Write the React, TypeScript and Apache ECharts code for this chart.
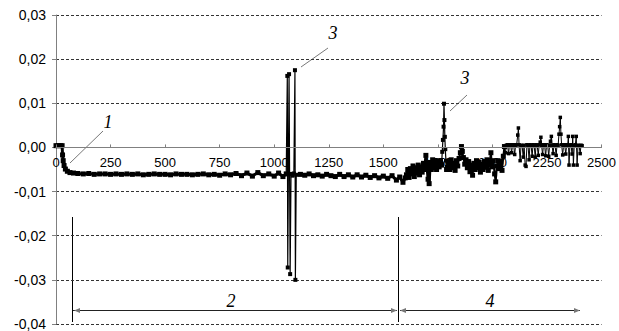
import React, { useEffect, useRef } from "react";
import * as echarts from "echarts";

// Startup transient (region 1)
const startup: [number, number][] = [
  [0, 0.0004], [10, 0.0004], [20, 0.0004], [28, 0.0004], [30, -0.0017], [33, -0.003],
  [37, -0.0041], [43, -0.0049], [52, -0.0054], [64, -0.0057], [80, -0.0058], [100, -0.0059],
];

// Steady regime (region 2, first part)
const steadyA: [number, number][] = [
  [125, -0.006], [150, -0.0059], [175, -0.0061], [200, -0.006], [225, -0.006], [250, -0.0061],
  [275, -0.006], [300, -0.0061], [325, -0.006], [350, -0.0061], [375, -0.006], [400, -0.0062],
  [425, -0.0061], [450, -0.006], [475, -0.0061], [500, -0.0061], [525, -0.0062], [550, -0.006],
  [575, -0.0061], [600, -0.0061], [625, -0.0062], [650, -0.0061], [675, -0.006], [700, -0.0062],
  [725, -0.0061], [750, -0.0063], [775, -0.006], [800, -0.0062], [825, -0.0059], [850, -0.0064],
  [875, -0.0058], [900, -0.0065], [925, -0.0057], [950, -0.0064], [975, -0.006], [1000, -0.0065],
  [1020, -0.0058], [1040, -0.0066], [1055, -0.006],
];

// Spikes (label 3, left)
const spikesA: [number, number][] = [
  [1060, 0.0162], [1062, -0.0272], [1068, 0.0166], [1073, -0.0287], [1077, -0.006],
  [1084, -0.0064], [1090, -0.0059], [1095, 0.0175], [1097, -0.03], [1101, -0.0062],
];

// Steady regime (region 2, second part)
const steadyB: [number, number][] = [
  [1120, -0.0061], [1140, -0.0063], [1160, -0.006], [1180, -0.0064], [1200, -0.0062], [1220, -0.0065],
  [1240, -0.0061], [1260, -0.0064], [1280, -0.0066], [1300, -0.0061], [1320, -0.0066], [1340, -0.0062],
  [1360, -0.0067], [1380, -0.0062], [1400, -0.0067], [1420, -0.0063], [1440, -0.0068], [1460, -0.0064],
  [1480, -0.0069], [1500, -0.0065], [1520, -0.007], [1540, -0.0064], [1560, -0.0074], [1575, -0.0067],
  [1590, -0.0079], [1600, -0.0069],
];

// Transition (region 4 start)
const transition: [number, number][] = [
  [1606, -0.0062], [1612, -0.005], [1618, -0.0068], [1624, -0.0048], [1630, -0.006], [1636, -0.0042],
  [1642, -0.0066], [1648, -0.0046], [1654, -0.0058], [1660, -0.004], [1666, -0.0062], [1672, -0.0044],
  [1678, -0.0056], [1684, -0.0036], [1690, -0.005], [1695, -0.0018], [1700, -0.0042], [1705, -0.0072],
  [1710, -0.0082], [1715, -0.0034], [1720, -0.005], [1726, -0.0028], [1732, -0.0046], [1738, -0.0032],
  [1744, -0.005], [1750, -0.003], [1756, -0.0044], [1762, -0.0032], [1767, -0.004],
];

// Spike (label 3, right)
const spikeB: [number, number][] = [
  [1770, -0.001], [1773, 0.0017], [1776, 0.0047], [1778, 0.0099], [1780, 0.0062], [1782, 0.0024],
  [1784, -0.0004], [1787, -0.003], [1790, -0.005],
];

// Region 4, scattered part
const scattered: [number, number][] = [
  [1793, -0.0045], [1799, -0.0032], [1805, -0.005], [1811, -0.0028], [1817, -0.0046], [1823, -0.0036],
  [1829, -0.0052], [1835, -0.003], [1841, -0.0042], [1847, -0.0025], [1853, -0.0012], [1858, 0.0002],
  [1862, -0.0009], [1867, -0.0023], [1873, -0.0038], [1879, -0.0028], [1885, -0.0046], [1891, -0.0032],
  [1897, -0.0055], [1903, -0.004], [1909, -0.0063], [1915, -0.0036], [1921, -0.005], [1927, -0.003],
  [1933, -0.0046], [1939, -0.0034], [1945, -0.0056], [1951, -0.0038], [1957, -0.005], [1963, -0.0032],
  [1969, -0.0045], [1975, -0.0028], [1981, -0.0052], [1987, -0.0036], [1993, -0.0012], [1998, -0.0044],
  [2004, -0.003], [2010, -0.006], [2015, -0.0078], [2020, -0.0042], [2026, -0.003], [2032, -0.0048],
  [2038, -0.0032], [2044, -0.0052], [2050, -0.002], [2055, 0.0002],
];

// Region 4, oscillating part
const oscillating: [number, number][] = [
  [2060, -0.0012], [2064, 0.0005], [2069, 0.0006], [2074, -0.0014], [2078, 0.0005], [2083, 0.0006],
  [2088, -0.0012], [2092, 0.0005], [2097, 0.0006], [2102, -0.0016], [2106, 0.0005], [2111, 0.0006],
  [2116, 0.0028], [2119, 0.0044], [2122, 0.0006], [2127, -0.003], [2131, 0.0005], [2136, 0.0004],
  [2141, -0.0022], [2145, 0.0005], [2150, -0.004], [2154, -0.0043], [2158, 0.0006], [2163, 0.0005],
  [2168, -0.0028], [2172, 0.0006], [2177, 0.0005], [2182, -0.002], [2186, 0.0006], [2191, 0.0005],
  [2196, -0.0022], [2200, 0.0006], [2205, 0.0005], [2210, -0.0018], [2214, 0.0006], [2219, 0.0012],
  [2222, 0.0023], [2225, 0.0005], [2230, -0.0016], [2234, 0.0006], [2239, 0.0005], [2244, -0.0019],
  [2248, 0.0006], [2253, 0.0005], [2258, -0.002], [2262, 0.0005], [2266, 0.0014], [2270, 0.0025],
  [2273, 0.0005], [2278, -0.0014], [2282, 0.0006], [2287, 0.0005], [2292, -0.0018], [2296, 0.0006],
  [2301, 0.0005], [2305, 0.003], [2308, 0.0047], [2311, 0.0068], [2314, 0.003], [2317, 0.0006],
  [2322, -0.0017], [2326, 0.0005], [2331, 0.0006], [2336, -0.0015], [2340, 0.0005], [2345, 0.0006],
  [2348, 0.0025], [2351, -0.004], [2355, 0.0005], [2360, 0.0006], [2365, -0.0015], [2368, 0.0025],
  [2371, -0.004], [2375, 0.0005], [2380, 0.0006], [2384, 0.0025], [2388, -0.004], [2392, 0.0005],
  [2397, 0.0004], [2402, -0.0014], [2406, 0.0005], [2411, 0.0004],
];

const xMin = 0;
const xMax = 2500;
const xStep = 250;
const yMin = -0.04;
const yMax = 0.03;
const yStep = 0.01;

const fmtY = (v: number) => v.toFixed(2).replace(".", ",");

const last = (a: [number, number][]) => a[a.length - 1];
const first = (a: [number, number][]) => a[0];

export default function App() {
  const ref = useRef<HTMLDivElement>(null);
  useEffect(() => {
    if (!ref.current) return;
    const chart = echarts.init(ref.current, undefined, { renderer: "svg" });
    const gridTop = 15;
    const gridBottom = 7;
    const plotH = 331 - gridTop - gridBottom;
    const zeroOffset = -plotH * (0 - yMin) / (yMax - yMin);
    const font = "Liberation Sans, Arial";
    const italic = 'italic 18px "Liberation Serif", "Times New Roman", serif';
    const arrowHead = (x: number, y: number, dir: number) => ({
      type: "polygon",
      shape: { points: [[x, y], [x + dir * 6, y - 2.5], [x + dir * 6, y + 2.5]] },
      style: { fill: "#777" },
    });
    const mk = (d: [number, number][], size: number, width: number) => ({
      type: "line",
      data: d,
      symbol: "rect",
      symbolSize: size,
      showAllSymbol: true,
      itemStyle: { color: "#000" },
      lineStyle: { color: "#000", width },
      silent: true,
      z: 3,
    });
    chart.setOption({
      animation: false,
      grid: { left: 56, right: 16, top: gridTop, bottom: gridBottom, containLabel: false },
      xAxis: {
        type: "value",
        min: xMin,
        max: xMax,
        interval: xStep,
        offset: zeroOffset,
        axisLine: { onZero: false, lineStyle: { color: "#808080", width: 1 } },
        axisTick: { show: true, inside: true, length: 3, lineStyle: { color: "#808080" } },
        axisLabel: { fontFamily: font, fontSize: 13, color: "#000", margin: 9, formatter: (v: number) => String(v) },
        splitLine: { show: false },
        z: 4,
      },
      yAxis: {
        type: "value",
        min: yMin,
        max: yMax,
        interval: yStep,
        axisLine: { show: true, onZero: false, lineStyle: { color: "#808080", width: 1 } },
        axisTick: { show: true, inside: false, length: 4, lineStyle: { color: "#808080" } },
        axisLabel: { fontFamily: font, fontSize: 14, color: "#000", margin: 10, formatter: fmtY },
        splitLine: { show: true, lineStyle: { color: "#333", width: 1, type: [3, 2] } },
      },
      series: [
        mk([...startup, ...steadyA], 5, 3),
        mk([last(steadyA), ...spikesA, first(steadyB)], 4, 1.2),
        mk([...steadyB, ...transition], 5, 3),
        mk([last(transition), ...spikeB], 4, 1.2),
        mk([last(spikeB), ...scattered], 5, 2),
        mk([last(scattered), ...oscillating], 3.5, 1),
      ],
      graphic: [
        { type: "line", shape: { x1: 70, y1: 163, x2: 103, y2: 131 }, style: { stroke: "#555", lineWidth: 0.8 } },
        { type: "text", style: { text: "1", x: 108, y: 122, font: italic, fill: "#000", align: "center", verticalAlign: "middle" } },
        { type: "line", shape: { x1: 301, y1: 67, x2: 328, y2: 48 }, style: { stroke: "#555", lineWidth: 0.8 } },
        { type: "text", style: { text: "3", x: 333, y: 33, font: italic, fill: "#000", align: "center", verticalAlign: "middle" } },
        { type: "line", shape: { x1: 450, y1: 111, x2: 467, y2: 95 }, style: { stroke: "#555", lineWidth: 0.8 } },
        { type: "text", style: { text: "3", x: 465, y: 78, font: italic, fill: "#000", align: "center", verticalAlign: "middle" } },
        { type: "line", shape: { x1: 72.5, y1: 217, x2: 72.5, y2: 322 }, style: { stroke: "#000", lineWidth: 1 } },
        { type: "line", shape: { x1: 398.5, y1: 217, x2: 398.5, y2: 322 }, style: { stroke: "#000", lineWidth: 1 } },
        { type: "line", shape: { x1: 73, y1: 310.5, x2: 397, y2: 310.5 }, style: { stroke: "#222", lineWidth: 1 } },
        { type: "line", shape: { x1: 400, y1: 310.5, x2: 580, y2: 310.5 }, style: { stroke: "#222", lineWidth: 1 } },
        arrowHead(74, 310.5, 1),
        arrowHead(397, 310.5, -1),
        arrowHead(400, 310.5, 1),
        arrowHead(580, 310.5, -1),
        { type: "text", style: { text: "2", x: 231, y: 301, font: italic, fill: "#000", align: "center", verticalAlign: "middle" } },
        { type: "text", style: { text: "4", x: 490, y: 301, font: italic, fill: "#000", align: "center", verticalAlign: "middle" } },
      ],
    });
    return () => chart.dispose();
  }, []);
  return <div ref={ref} style={{ position: "fixed", left: 0, top: 0, width: 619, height: 331, background: "#fff" }} />;
}
